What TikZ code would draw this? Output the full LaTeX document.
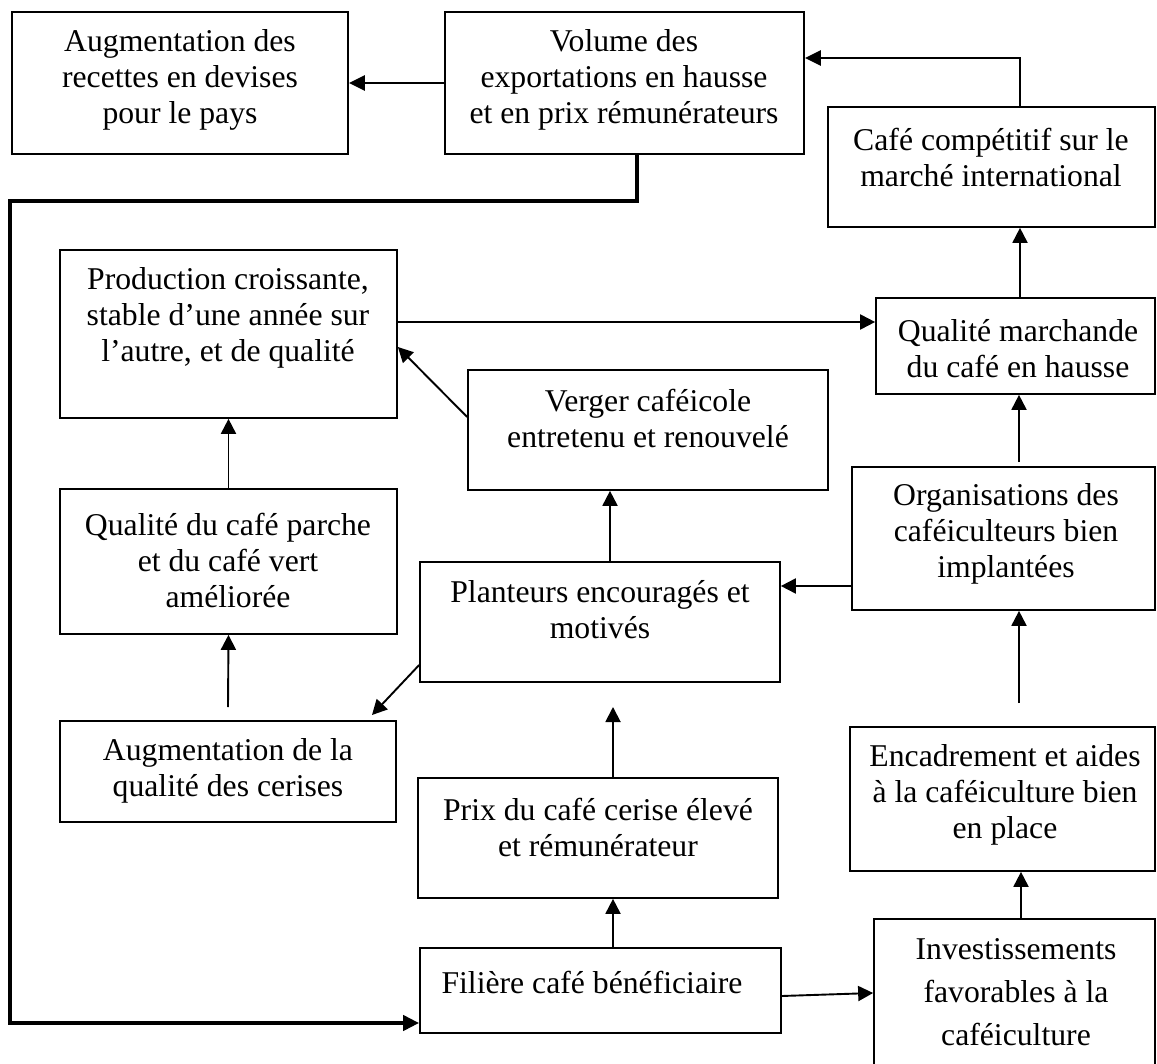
\documentclass[tikz,border=0pt]{standalone}
\usepackage{fontspec}
\setmainfont{Liberation Serif}
\usetikzlibrary{arrows.meta,fit}
\begin{document}
\begin{tikzpicture}[x=0.5pt,y=-0.5pt,
  box/.style={draw, line width=0.85pt, inner sep=0pt, fit={#1}},
  txt/.style={align=center, inner sep=0pt, font=\fontsize{15.85}{18}\selectfont},
  conn/.style={line width=0.95pt, -{Triangle[length=7.5pt,width=7.5pt]}},
  heavy/.style={line width=1.4pt, -{Triangle[length=8pt,width=7.5pt]}},
  loopline/.style={line width=2pt, -{Triangle[length=8pt,width=7.5pt]}},
]
\useasboundingbox (0,0) rectangle (1157,1064);

% boxes
\node[box={(12,12) (348,154)}]    (b1) {};
\node[box={(445,12) (804,154)}]   (b2) {};
\node[box={(828,107) (1155,227)}] (b3) {};
\node[box={(60,250) (397,418)}]   (b4) {};
\node[box={(876,298) (1155,394)}] (b5) {};
\node[box={(468,370) (828,490)}]  (b6) {};
\node[box={(852,467) (1155,610)}] (b7) {};
\node[box={(60,489) (397,634)}]   (b8) {};
\node[box={(420,562) (780,682)}]  (b9) {};
\node[box={(60,721) (396,822)}]   (b10) {};
\node[box={(850,727) (1155,871)}] (b11) {};
\node[box={(418,778) (778,898)}]  (b12) {};
\node[box={(420,948) (781,1033)}] (b13) {};
\node[box={(874,919) (1155,1090)}] (b14) {};

% texts
\node[txt] (t1)  at (180,80)   {Augmentation des\\recettes en devises\\pour le pays};
\node[txt] (t2)  at (624,80)   {Volume des\\exportations en hausse\\et en prix rémunérateurs};
\node[txt] (t3)  at (991,157)  {Café compétitif sur le\\marché international};
\node[txt] (t4)  at (228,318)  {Production croissante,\\stable d’une année sur\\l’autre, et de qualité};
\node[txt] (t5)  at (1018,349) {Qualité marchande\\du café en hausse};
\node[txt] (t6)  at (648,418)  {Verger caféicole\\entretenu et renouvelé};
\node[txt] (t7)  at (1006,534) {Organisations des\\caféiculteurs bien\\implantées};
\node[txt] (t8)  at (228,560)  {Qualité du café parche\\et du café vert\\améliorée};
\node[txt] (t9)  at (600,610)  {Planteurs encouragés et\\motivés};
\node[txt] (t10) at (228,771)  {Augmentation de la\\qualité des cerises};
\node[txt] (t11) at (1005,795) {Encadrement et aides\\à la caféiculture bien\\en place};
\node[txt] (t12) at (598,827)  {Prix du café cerise élevé\\et rémunérateur};
\node[txt] (t13) at (592,982)  {Filière café bénéficiaire};
\node[txt, font=\fontsize{15.85}{21.5}\selectfont] (t14) at (1016,992) {Investissements\\favorables à la\\caféiculture};

% routing points and free arrow ends
\coordinate (vA)  at (1020,58);
\coordinate (lA)  at (637,201);
\coordinate (lB)  at (10,201);
\coordinate (lC)  at (10,1023);
\coordinate (h1)  at (640,322);
\coordinate (h2)  at (800,586);
\coordinate (g1s) at (468,417);
\coordinate (g1e) at (397,347);
\coordinate (v2)  at (610,520);
\coordinate (s10) at (228,707);
\coordinate (g2s) at (420,665);
\coordinate (g2e) at (372,715);
\coordinate (v3)  at (613,707);
\coordinate (s7)  at (1019,462);
\coordinate (s11) at (1019,703);
\coordinate (v4)  at (1021,900);
\coordinate (q1)  at (781,996);
\coordinate (q2)  at (874,993);

% connectors
\draw[heavy] (b3.north -| vA) -- (vA) -- (b2.east |- vA);
\draw[heavy] (b2.west) -- (b1.east);
\draw[loopline] (b2.south -| lA) -- (lA) -- (lB) -- (lC) -- (b13.west |- lC);
\draw[conn] (b4.east |- h1) -- (b5.west |- h1);
\draw[conn] (b5.north -| vA) -- (b3.south -| vA);
\draw[conn] (s7) -- (b5.south -| s7);
\draw[conn] (b7.west |- h2) -- (b9.east |- h2);
\draw[conn] (b6.west |- g1s) -- (b4.east |- g1e);
\draw[conn] (b9.north -| v2) -- (b6.south -| v2);
\draw[conn] (b8.north) -- (b4.south);
\draw[conn] (s10) -- (b8.south);
\draw[conn] (b9.west |- g2s) -- (g2e);
\draw[conn] (b12.north -| v3) -- (v3);
\draw[conn] (b13.north -| v3) -- (b12.south -| v3);
\draw[conn] (s11) -- (b7.south -| s11);
\draw[conn] (b14.north -| v4) -- (b11.south -| v4);
\draw[conn] (b13.east |- q1) -- (b14.west |- q2);
\end{tikzpicture}
\end{document}
